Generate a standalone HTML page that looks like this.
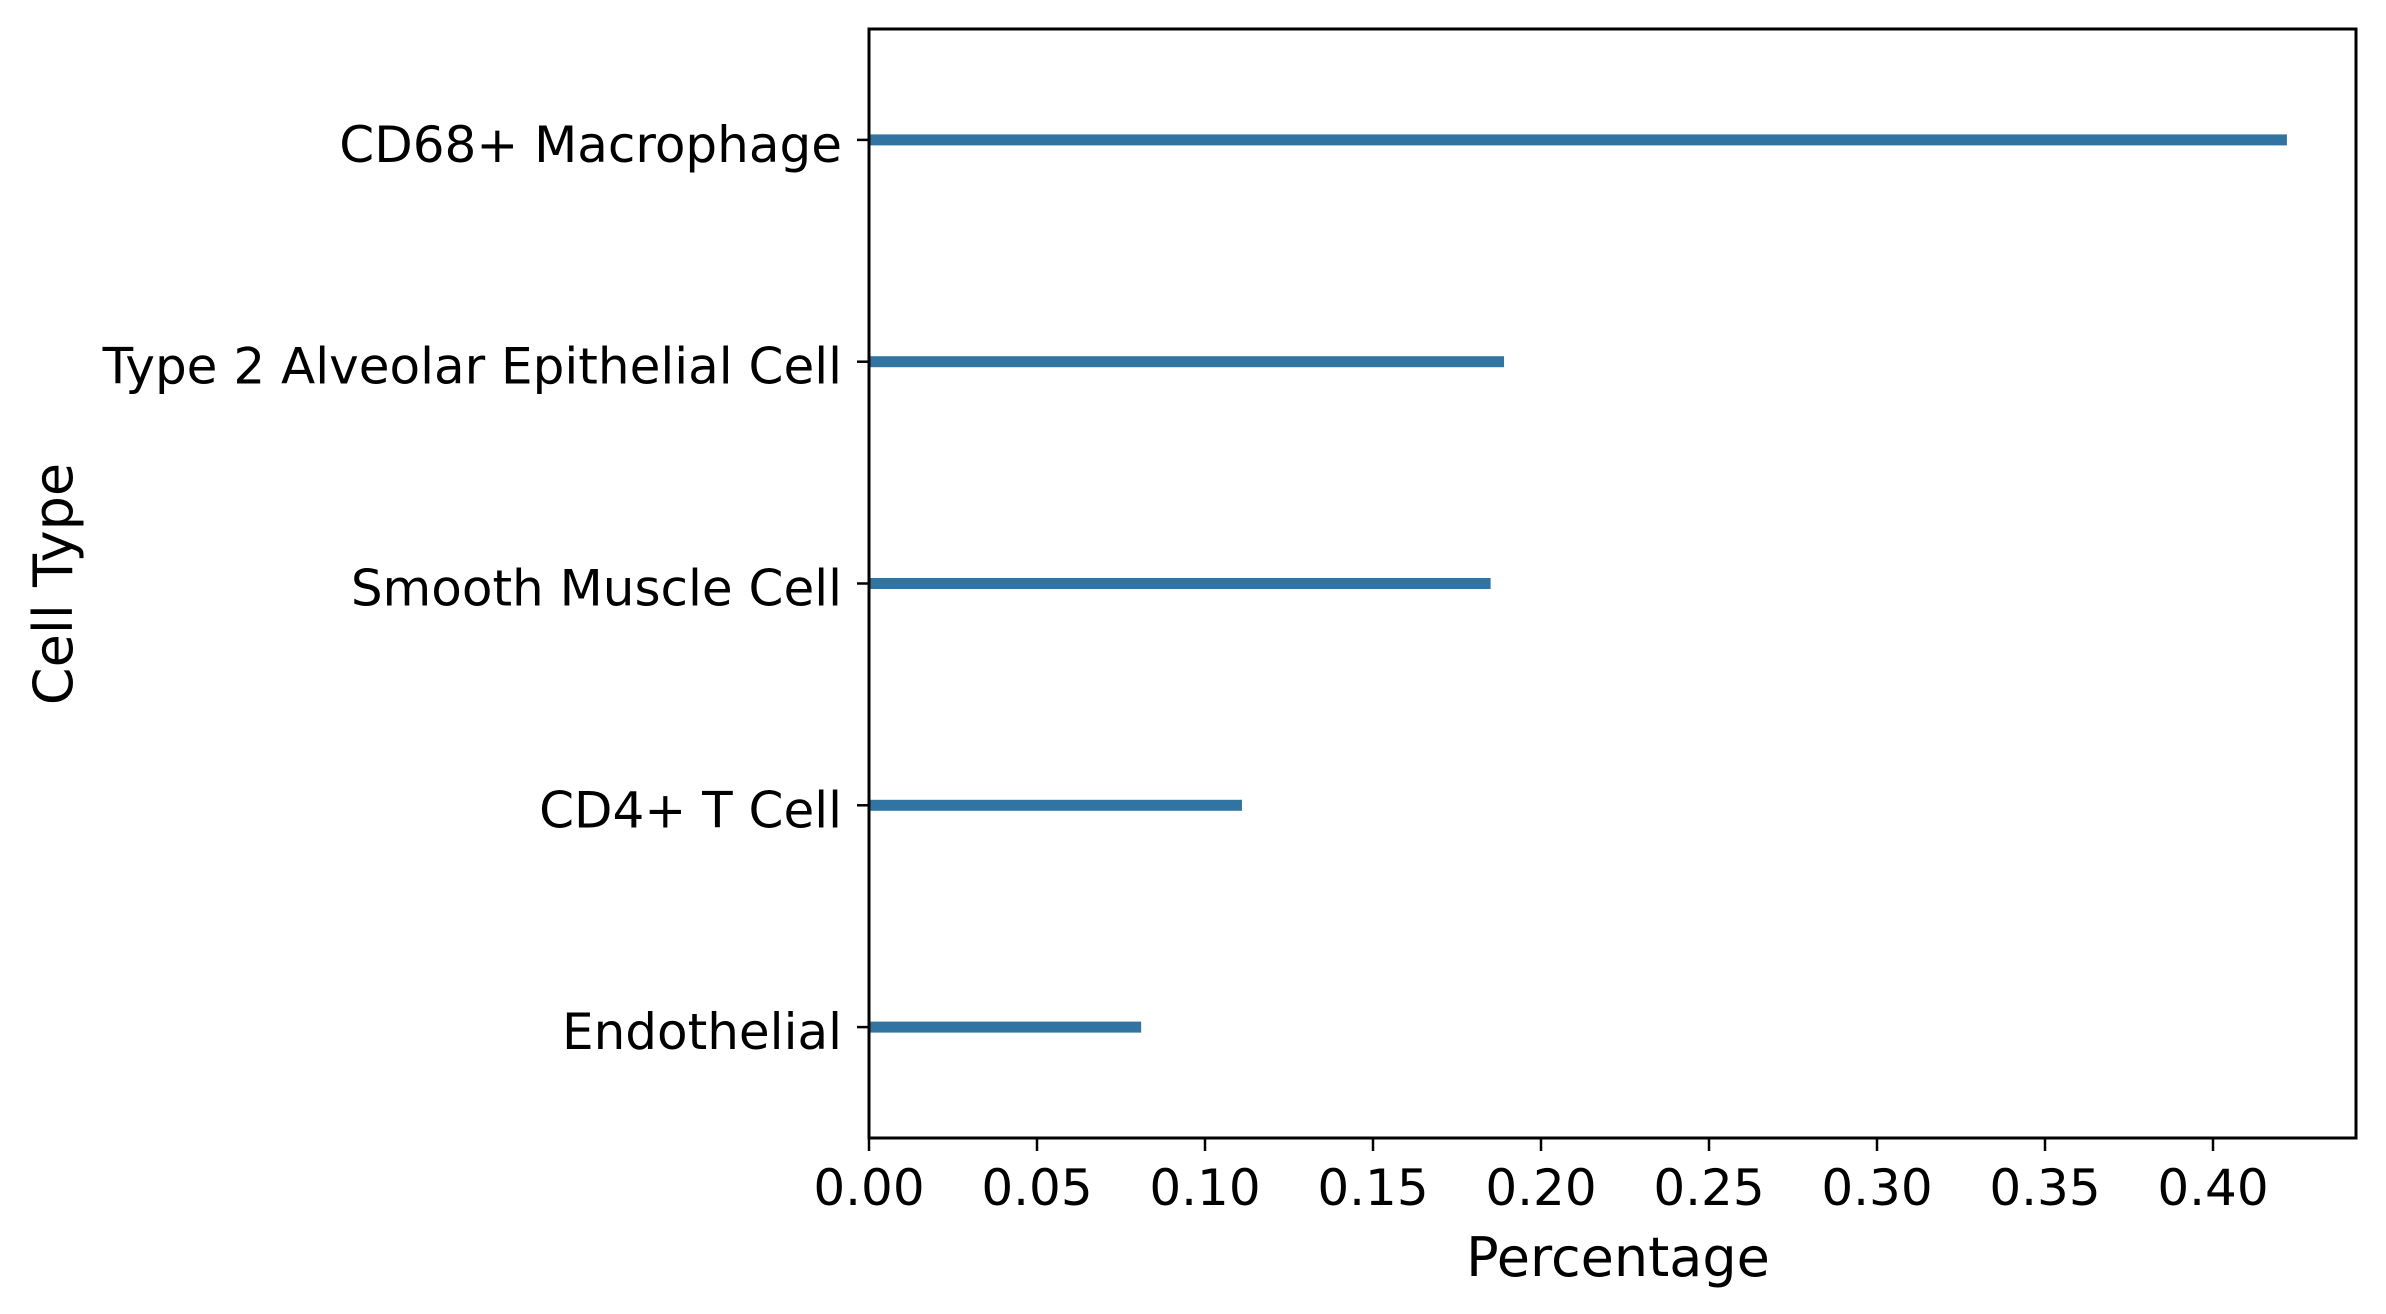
<!DOCTYPE html>
<html><head><meta charset="utf-8"><style>
html,body{margin:0;padding:0;background:#fff;}
svg{display:block;font-family:"DejaVu Sans","Liberation Sans",sans-serif;}
</style></head><body>
<svg id="chart" width="2386" height="1314" viewBox="0 0 2386 1314" xmlns="http://www.w3.org/2000/svg">
<rect width="2386" height="1314" fill="#fff"/>
<g id="bars"></g>
<g id="xticks"></g>
<g id="yticks"></g>
<rect x="869" y="29" width="1487" height="1109" fill="none" stroke="#000" stroke-width="3"/>
<text x="1618" y="1276" font-size="54" text-anchor="middle">Percentage</text>
<text x="0" y="0" font-size="54" text-anchor="middle" transform="translate(72,584) rotate(-90)">Cell Type</text>
</svg>
<script>
const categories = ["CD68+ Macrophage","Type 2 Alveolar Epithelial Cell","Smooth Muscle Cell","CD4+ T Cell","Endothelial"];
const values = [0.422, 0.189, 0.185, 0.111, 0.081];
const xTickValues = [0,0.05,0.10,0.15,0.20,0.25,0.30,0.35,0.40];
const xTickLabels = ["0.00","0.05","0.10","0.15","0.20","0.25","0.30","0.35","0.40"];

const NS="http://www.w3.org/2000/svg";
const L=869, R=2356, T=29, B=1138;
const xMin=0, xMax=(R-L)/3360;
function xs(v){return L+(v-xMin)/(xMax-xMin)*(R-L);}
function ys(i){const step=(B-T)/categories.length;return T+step*(i+0.5);}

const barsG=document.getElementById('bars');
const xG=document.getElementById('xticks');
const yG=document.getElementById('yticks');

categories.forEach((c,i)=>{
  const r=document.createElementNS(NS,'rect');
  r.setAttribute('x',xs(0));
  r.setAttribute('y',ys(i)-5.5);
  r.setAttribute('width',xs(values[i])-xs(0));
  r.setAttribute('height',11);
  r.setAttribute('fill','#3274a1');
  
  
  barsG.appendChild(r);
  const tk=document.createElementNS(NS,'line');
  tk.setAttribute('x1',L-12);tk.setAttribute('x2',L);
  tk.setAttribute('y1',ys(i));tk.setAttribute('y2',ys(i));
  tk.setAttribute('stroke','#000');tk.setAttribute('stroke-width',2.5);
  
  
  yG.appendChild(tk);
  const t=document.createElementNS(NS,'text');
  t.setAttribute('x',L-27);t.setAttribute('y',ys(i)+22);
  t.setAttribute('font-size',50);t.setAttribute('text-anchor','end');
  t.textContent=c;
  
  
  yG.appendChild(t);
});

xTickValues.forEach((v,i)=>{
  const tk=document.createElementNS(NS,'line');
  tk.setAttribute('x1',xs(v));tk.setAttribute('x2',xs(v));
  tk.setAttribute('y1',B);tk.setAttribute('y2',B+13);
  tk.setAttribute('stroke','#000');tk.setAttribute('stroke-width',2.5);
  
  
  xG.appendChild(tk);
  const t=document.createElementNS(NS,'text');
  t.setAttribute('x',xs(v));t.setAttribute('y',1205);
  t.setAttribute('font-size',50);t.setAttribute('text-anchor','middle');
  t.textContent=xTickLabels[i];
  
  
  xG.appendChild(t);
});
</script>
</body></html>
